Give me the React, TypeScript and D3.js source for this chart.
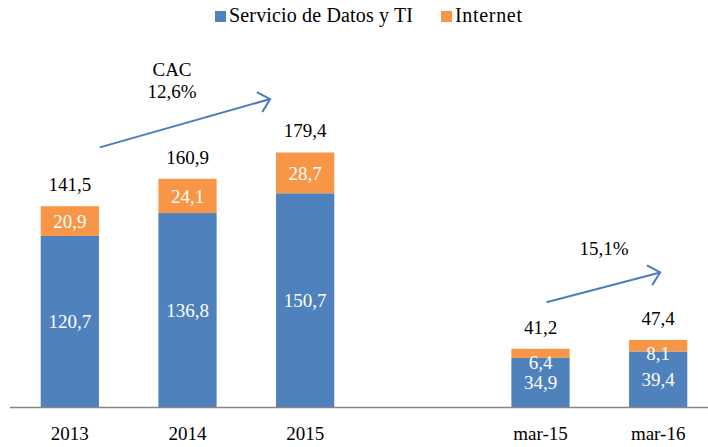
import React from "react";
import * as d3 from "d3";

const slots = ["2013", "2014", "2015", "gap", "mar-15", "mar-16"];
const categories = ["2013", "2014", "2015", "mar-15", "mar-16"];
const datos = [120.7, 136.8, 150.7, 34.9, 39.4];
const internet = [20.9, 24.1, 28.7, 6.4, 8.1];
const totals = [141.5, 160.9, 179.4, 41.2, 47.4];
const seriesNames = ["Servicio de Datos y TI", "Internet"];
const colors = ["#4F81BD", "#F79646"];
const fmt = (v: number) => v.toFixed(1).replace(".", ",");

const W = 708, H = 447;
const FONT = "\"Liberation Serif\", \"Times New Roman\", \"DejaVu Serif\", serif";

export default function App() {
  const x = d3.scaleBand().domain(slots).range([11, 717]).paddingInner(0.505).paddingOuter(0.2525);
  const y = d3.scaleLinear().domain([0, 200]).range([407.5, 407.5 - 284.3]);
  const bw = x.bandwidth();

  const stack = d3.stack<any>().keys(["datos", "internet"])(
    categories.map((c, i) => ({ cat: c, datos: datos[i], internet: internet[i] }))
  );

  const arrows = [
    { x0: x("2013")! + bw / 2 + 30, v0: 183, x1: x("2015")! + bw / 2 - 35, v1: 217, label: ["CAC", "12,6%"], lx: 172, lv: [233, 218] },
    { x0: x("mar-15")! + bw / 2 + 6, v0: 74, x1: x("mar-16")! + bw / 2 + 2, v1: 95, label: ["15,1%"], lx: 604, lv: [107] },
  ];

  const arrowHead = (x0: number, y0: number, x1: number, y1: number) => {
    const a = Math.atan2(y1 - y0, x1 - x0);
    const L = 15, sp = 0.75;
    const p1 = [x1 - L * Math.cos(a - sp), y1 - L * Math.sin(a - sp)];
    const p2 = [x1 - L * Math.cos(a + sp), y1 - L * Math.sin(a + sp)];
    return `M${p1[0]},${p1[1]}L${x1},${y1}L${p2[0]},${p2[1]}`;
  };

  const ts = { fontFamily: FONT, fontSize: 19 } as React.CSSProperties;
  const ls = { fontFamily: FONT, fontSize: 20 } as React.CSSProperties;

  return (
    <svg width={W} height={H} style={{ position: "absolute", left: 0, top: 0, background: "#fff", fontFamily: FONT }}>
      {/* legend */}
      <g>
        <rect x={215} y={11} width={11} height={11} fill={colors[0]} />
        <text x={229} y={22} style={ls} fill="#000" textLength={184} lengthAdjust="spacing">{seriesNames[0]}</text>
        <rect x={441} y={11} width={11} height={11} fill={colors[1]} />
        <text x={455} y={22} style={ls} fill="#000" textLength={67} lengthAdjust="spacing">{seriesNames[1]}</text>
      </g>
      {/* bars */}
      {stack.map((s, si) => (
        <g key={si}>
          {s.map((d, i) => {
            const cat = categories[i];
            const top = y(d[1]), bot = y(d[0]);
            const h = bot - top;
            const cy = h < 20 ? top + 13.5 : (top + bot) / 2;
            const val = si === 0 ? datos[i] : internet[i];
            return (
              <g key={cat}>
                <rect x={x(cat)} y={top} width={bw} height={h} fill={colors[si]} />
                <text x={x(cat)! + bw / 2} y={cy} dy="0.35em" textAnchor="middle" style={ts} fill="#fff">{fmt(val)}</text>
              </g>
            );
          })}
        </g>
      ))}
      {/* totals */}
      {categories.map((c, i) => (
        <text key={c} x={x(c)! + bw / 2} y={y(totals[i]) - 15} textAnchor="middle" style={ts} fill="#000">{fmt(totals[i])}</text>
      ))}
      {/* axis */}
      <line x1={10} x2={708} y1={407.5} y2={407.5} stroke="#868686" strokeWidth={1.5} />
      {categories.map((c) => (
        <text key={c} x={x(c)! + bw / 2} y={440} textAnchor="middle" style={ts} fill="#000">{c}</text>
      ))}
      {/* arrows */}
      {arrows.map((a, i) => {
        const y0 = y(a.v0), y1 = y(a.v1);
        return (
          <g key={i}>
            <line x1={a.x0} y1={y0} x2={a.x1} y2={y1} stroke="#4A7EBB" strokeWidth={2} />
            <path d={arrowHead(a.x0, y0, a.x1, y1)} fill="none" stroke="#4A7EBB" strokeWidth={2} />
            {a.label.map((t, j) => (
              <text key={j} x={a.lx} y={y(a.lv[j])} textAnchor="middle" style={ts} fill="#000">{t}</text>
            ))}
          </g>
        );
      })}
    </svg>
  );
}
